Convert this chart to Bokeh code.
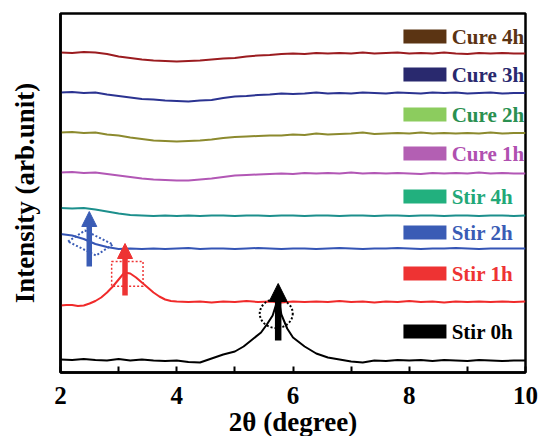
from bokeh.plotting import figure
from bokeh.models import Range1d, FixedTicker, Arrow, NormalHead
from bokeh.core.properties import value
from bokeh.embed import file_html
from bokeh.resources import INLINE

# ---------------- data ----------------
GRID = [2.0, 2.2, 2.4, 2.6, 2.8, 3.0, 3.2, 3.4, 3.6, 3.8, 4.0, 4.2, 4.4, 4.6, 4.8,
        5.0, 5.2, 5.4, 5.6, 5.8, 6.0, 6.2, 6.4, 6.6, 6.8, 7.0, 7.2, 7.4, 7.6, 7.8,
        8.0, 8.2, 8.4, 8.6, 8.8, 9.0, 9.2, 9.4, 9.6, 9.8, 10.0]

CURE_4H = [320, 319.5, 320.5, 320, 318.5, 316, 314.5, 313, 312, 311.5, 311, 311.5, 312, 313,
           314, 314.5, 316, 317, 317.5, 318.5, 319, 318.5, 319.5, 319, 319.5, 319, 320, 319,
           319.5, 320, 319, 319.5, 319, 320, 319, 318.5, 319.5, 319, 319.5, 319, 319]
CURE_3H = [280, 280.5, 279.5, 280, 278, 276.5, 275, 273.5, 273, 272, 271.5, 271, 272, 272.5,
           274.5, 276, 276.5, 277.5, 278, 279, 278.5, 279, 280, 279, 279.5, 279, 280, 279.5,
           279, 280, 279.5, 279, 280, 279.5, 280, 279, 279.5, 280, 279, 279.5, 279.5]
CURE_2H = [240, 240.5, 239.5, 240, 238, 237, 235, 233.5, 232, 231.5, 231, 231.5, 232, 233,
           234.5, 235.5, 236, 236.5, 237, 237, 238, 237.5, 239, 238, 238.5, 239, 240, 238.5,
           239, 239.5, 239, 240, 239, 239.5, 239, 239.5, 239, 240, 239, 239.5, 239.5]
CURE_1H = [200, 200.5, 199.5, 200, 198.5, 197, 195.5, 194, 193, 192.5, 192, 192, 193, 194,
           195.5, 197, 197.5, 198, 198.5, 199, 198.5, 199.5, 199, 199.5, 199, 200, 199, 199.5,
           199, 199.5, 199, 198.5, 199.5, 199, 199.5, 199, 200, 199, 199.5, 199, 199]
STIR_4H = [164.5, 164, 164.5, 163, 161, 159, 157.5, 157, 156.5, 157, 156.5, 157, 156.5, 157,
           157, 156.5, 157, 157, 156.5, 157, 157, 156.5, 157, 157, 156.5, 157, 157, 156.5,
           157, 157, 156.5, 157, 157, 156.5, 157, 157, 156.5, 157, 157, 156.5, 157]
STIR_2H = [138.5, 137, 133.5, 128.5, 125.5, 123.5, 124, 123.5, 124, 123.5, 124, 124.5, 123.5,
           124, 124, 123.5, 124, 124.5, 124, 123.5, 124, 124, 123.5, 124, 124.5, 124, 123.5,
           124, 124, 124.5, 124, 123.5, 124, 124, 124.5, 124, 123.5, 124, 124, 124, 124]

STIR_1H_X = [2.0, 2.1, 2.2, 2.3, 2.4, 2.5, 2.6, 2.7, 2.8, 2.9, 3.0, 3.1, 3.2, 3.3, 3.4, 3.5,
             3.6, 3.7, 3.8, 3.9, 4.0, 4.2, 4.4, 4.6, 4.8, 5.0, 5.2, 5.4, 5.6, 5.8, 6.0, 6.2,
             6.4, 6.6, 6.8, 7.0, 7.2, 7.4, 7.6, 7.8, 8.0, 8.2, 8.4, 8.6, 8.8, 9.0, 9.2, 9.4,
             9.6, 9.8, 10.0]
STIR_1H = [67, 67.5, 67.5, 66.5, 67, 69, 71.5, 75, 80, 86, 93, 100, 99, 95, 90, 85, 80, 76,
           73, 71.5, 71, 70.5, 71, 70, 71, 70.5, 71.5, 70.5, 71, 70, 71, 70.5, 71, 70.5, 71.5,
           70.5, 71, 70, 71, 70.5, 71.5, 70.5, 71, 70, 71, 70.5, 71, 70.5, 71, 70.5, 71]

STIR_0H_X = [2.0, 2.2, 2.4, 2.6, 2.8, 3.0, 3.2, 3.4, 3.6, 3.8, 4.0, 4.2, 4.4, 4.6, 4.8,
             5.0, 5.15, 5.3, 5.45, 5.55, 5.65, 5.72, 5.75, 5.8, 5.9, 6.0,
             6.2, 6.4, 6.6, 6.8, 7.0, 7.2, 7.4,
             7.6, 7.8, 8.0, 8.2, 8.4, 8.6, 8.8, 9.0, 9.2, 9.4, 9.6, 9.8, 10.0]
STIR_0H = [13, 12.5, 13.5, 12.5, 12, 13.5, 12, 13, 12, 11.5, 12, 10.5, 10, 14, 18,
           21, 26, 33, 40, 48, 57, 70, 74, 58, 44, 35,
           26, 19, 15, 13, 11, 10, 12,
           11.5, 12.5, 12, 12.5, 11.5, 12.5, 12, 11.5, 12.5, 12, 11.5, 12, 12]

LABELS = ["Cure 4h", "Cure 3h", "Cure 2h", "Cure 1h", "Stir 4h", "Stir 2h", "Stir 1h", "Stir 0h"]
X_TICKS = [2, 4, 6, 8, 10]
X_MINOR = [3, 5, 7, 9]

# annotation anchors (peak markers)
BLUE_ARROW = (2.495, 106, 161)
RED_ARROW = (3.11, 77, 129)
BLACK_ARROW = (5.745, 32, 89)
BLUE_BOX_X = [2.129, 2.421, 2.902, 2.610]
BLUE_BOX_Y = [131, 142, 128, 117]
RED_BOX = (2.88, 3.42, 86.3, 111)
BLACK_RING = (5.712, 59)

# ---------------- styles ----------------
LINE_COLORS = ["#9b1c20", "#2b3391", "#8c8a2e", "#b257b5", "#1c8f8c", "#3555b5", "#f02a2a", "#000000"]
SWATCH_COLORS = ["#5b3413", "#29296e", "#8ccc5e", "#b35fb3", "#22b07e", "#3a5cb5", "#ee3333", "#000000"]
TEXT_COLORS = ["#5b3413", "#29296e", "#2a9050", "#b050b0", "#22a878", "#3a5cb5", "#ee3333", "#000000"]
LEGEND_Y = [336, 298, 258, 219, 176, 140, 99, 41]
SWATCH_X = 8.27
SWATCH_W = 0.74
TEXT_X = 8.73
FONT = "Liberation Serif"

p = figure(frame_width=465, frame_height=359,
           x_range=Range1d(2, 10), y_range=Range1d(0, 359),
           output_backend="svg", toolbar_location=None,
           min_border_left=60, min_border_right=14, min_border_top=13, min_border_bottom=64)
p.xgrid.visible = False
p.ygrid.visible = False
p.outline_line_color = "black"
p.outline_line_width = 2.5
p.outline_line_alpha = 1.0
p.background_fill_color = "white"
p.border_fill_color = "white"

xa = p.xaxis[0]
xa.ticker = FixedTicker(ticks=X_TICKS, minor_ticks=X_MINOR)
xa.major_tick_in = 6
xa.major_tick_out = 0
xa.minor_tick_in = 6
xa.minor_tick_out = 0
xa.major_tick_line_width = 2
xa.minor_tick_line_width = 2
xa.axis_line_width = 2.5
xa.major_label_text_font = FONT
xa.major_label_text_font_size = "25px"
xa.major_label_text_font_style = "bold"
xa.major_label_text_color = "black"
xa.major_label_standoff = 14
xa.axis_label = "2θ (degree)"
xa.axis_label_text_font = FONT
xa.axis_label_text_font_size = "27px"
xa.axis_label_text_font_style = "bold"
xa.axis_label_text_color = "black"
xa.axis_label_standoff = 0

ya = p.yaxis[0]
ya.ticker = FixedTicker(ticks=[])
ya.major_tick_line_color = None
ya.minor_tick_line_color = None
ya.major_label_text_font_size = "0px"
ya.major_label_standoff = 0
ya.axis_line_width = 2.5
ya.axis_label = "Intensity (arb.unit)"
ya.axis_label_text_font = FONT
ya.axis_label_text_font_size = "27px"
ya.axis_label_text_font_style = "bold"
ya.axis_label_text_color = "black"
ya.axis_label_standoff = 21

series = [(GRID, CURE_4H), (GRID, CURE_3H), (GRID, CURE_2H), (GRID, CURE_1H),
          (GRID, STIR_4H), (GRID, STIR_2H), (STIR_1H_X, STIR_1H), (STIR_0H_X, STIR_0H)]
for (xs, ys), c in zip(series, LINE_COLORS):
    p.line(xs, ys, line_color=c, line_width=2)

# legend drawn per entry
p.rect(x=[SWATCH_X] * len(LABELS), y=LEGEND_Y, width=SWATCH_W, height=14,
       height_units="screen", fill_color=SWATCH_COLORS, line_color=None)
p.text(x=[TEXT_X] * len(LABELS), y=LEGEND_Y, text=LABELS, text_color=TEXT_COLORS,
       text_font=value(FONT), text_font_style="bold", text_font_size="21px",
       text_baseline="middle", text_align="left")

# dotted markers
p.patch(BLUE_BOX_X, BLUE_BOX_Y, fill_color=None, line_color="#3a5cb5",
        line_width=2, line_dash="2 2")
p.quad(left=[RED_BOX[0]], right=[RED_BOX[1]], bottom=[RED_BOX[2]], top=[RED_BOX[3]],
       fill_color=None, line_color="#ee3333", line_width=1.5, line_dash="2 2")
p.ellipse(x=[BLACK_RING[0]], y=[BLACK_RING[1]], width=33, height=29,
          width_units="screen", height_units="screen",
          fill_color=None, line_color="black", line_width=2, line_dash="2 2")

for (ax, y0, y1), c, lw, hs in [(BLUE_ARROW, "#3a5cb5", 5.5, 15),
                                  (RED_ARROW, "#ee3333", 5.5, 15),
                                  (BLACK_ARROW, "black", 6.5, 18)]:
    p.add_layout(Arrow(end=NormalHead(size=hs, fill_color=c, line_color=c, line_width=1),
                       x_start=ax, y_start=y0, x_end=ax, y_end=y1,
                       line_color=c, line_width=lw))

open("out.html", "w").write(file_html(p, INLINE))
